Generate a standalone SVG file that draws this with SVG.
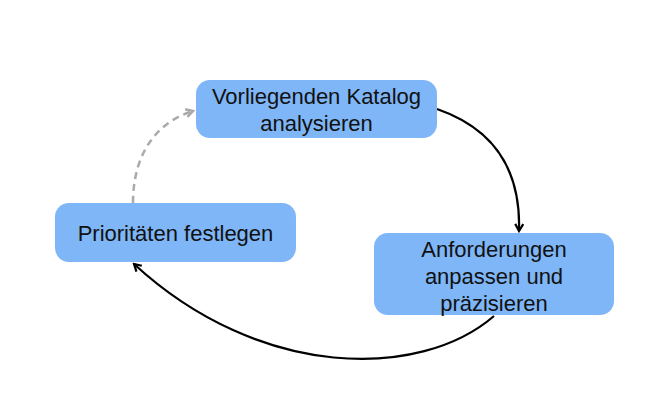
<svg xmlns="http://www.w3.org/2000/svg" width="666" height="420" viewBox="0 0 666 420">
<style>
.box{fill:#7EB6F7}
.lbl{font-family:"Liberation Sans",Arial,sans-serif;font-size:22px;fill:#111;text-anchor:middle}
.c{fill:none;stroke:#000;stroke-width:2.2}
.d{fill:none;stroke:#aaaaaa;stroke-width:2.5;stroke-dasharray:7 5}
</style>
<defs>
<marker id="ab" viewBox="0 0 10 10" refX="8" refY="5" markerWidth="10" markerHeight="10" markerUnits="userSpaceOnUse" orient="auto">
<path d="M1,1 L8,5 L1,9" fill="none" stroke="#000" stroke-width="2.2"/>
</marker>
<marker id="ag" viewBox="0 0 10 10" refX="8" refY="5" markerWidth="10" markerHeight="10" markerUnits="userSpaceOnUse" orient="auto">
<path d="M1,1 L8,5 L1,9" fill="none" stroke="#aaaaaa" stroke-width="2.5"/>
</marker>
</defs>
<rect width="666" height="420" fill="#fff"/>
<g id="connectors">
<path class="d" d="M133,203 C133,150 160,121 193,111" marker-end="url(#ag)"/>
<path class="c" d="M437,109 C492,128 521,168 519,231" marker-end="url(#ab)"/>
<path class="c" d="M494,316 C420,380 260,380 134,264" marker-end="url(#ab)"/>
</g>
<g id="node-katalog">
<rect class="box" x="196" y="80" width="241" height="58" rx="14"/>
<text class="lbl" x="316.5" y="104">Vorliegenden Katalog</text>
<text class="lbl" x="316.5" y="131">analysieren</text>
</g>
<g id="node-prioritaeten">
<rect class="box" x="55" y="203" width="241" height="59" rx="14"/>
<text class="lbl" x="175.5" y="241">Prioritäten festlegen</text>
</g>
<g id="node-anforderungen">
<rect class="box" x="374" y="233" width="240" height="82" rx="14"/>
<text class="lbl" x="494" y="257">Anforderungen</text>
<text class="lbl" x="494" y="284">anpassen und</text>
<text class="lbl" x="494" y="311">präzisieren</text>
</g>
</svg>
